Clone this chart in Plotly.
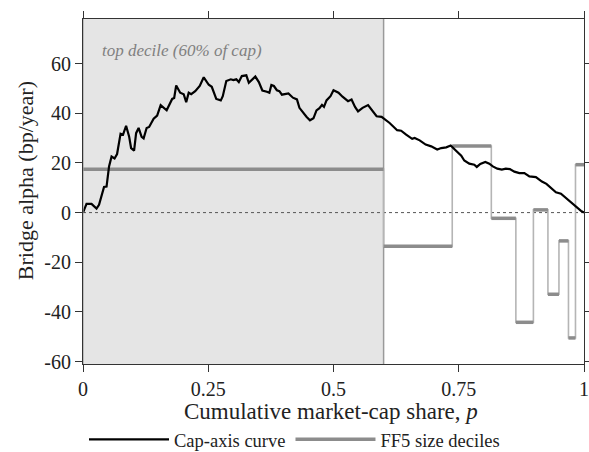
import plotly.graph_objects as go

# ---- data ----
curve_p = [0, .007, .017, .022, .027, .032, .039, .042, .047, .052, .057, .063, .068, .075, .080,
           .086, .092, .096, .102, .106, .111, .117, .121, .127, .132, .141, .148, .155, .167, .178,
           .182, .186, .194, .201, .206, .211, .216, .224, .233, .241, .251, .257, .266, .275, .279,
           .286, .295, .300, .306, .311, .317, .326, .331, .344, .351, .358, .367, .372, .376, .381,
           .387, .392, .397, .410, .419, .427, .432, .440, .446, .453, .460, .466, .472, .477, .481,
           .486, .494, .500, .510, .518, .522, .529, .536, .543, .549, .558, .569, .578, .586, .596,
           .606, .612, .627, .635, .645, .652, .657, .662, .672, .684, .695, .707, .715, .725, .734,
           .742, .755, .761, .771, .781, .786, .793, .803, .811, .818, .827, .836, .844, .852, .861,
           .871, .881, .891, .904, .916, .925, .934, .944, .954, .964, .974, .984, .994, 1.0]
curve_alpha = [0, 3.5, 3.5, 2.4, 1.6, 3.1, 7.8, 10.3, 10.5, 18.6, 22.6, 21.8, 23.6, 31.8, 31.4,
               35.0, 30.7, 26.0, 25.0, 32.0, 34.1, 30.5, 29.9, 34.1, 34.5, 37.8, 39.1, 43.3, 41.2, 45.8,
               46.2, 51.2, 48.3, 47.7, 44.5, 48.3, 47.7, 48.9, 51.0, 54.5, 51.5, 50.7, 45.8, 45.2, 46.9,
               53.0, 53.7, 53.4, 53.7, 52.6, 55.0, 55.3, 52.3, 54.8, 52.6, 49.2, 48.7, 48.3, 51.4, 51.0,
               49.3, 48.9, 47.5, 48.0, 46.3, 45.6, 42.2, 39.9, 38.6, 37.2, 38.0, 41.2, 42.1, 43.4, 42.6,
               45.2, 46.9, 49.3, 48.3, 46.7, 45.9, 44.9, 45.6, 42.6, 40.8, 42.2, 43.3, 40.8, 38.8, 38.6,
               37.2, 36.1, 33.2, 33.0, 31.4, 30.5, 29.7, 30.1, 29.1, 27.4, 26.7, 25.4, 26.0, 26.3, 27.0,
               25.4, 22.9, 21.0, 19.7, 19.3, 18.4, 19.6, 20.4, 19.7, 18.6, 17.7, 17.3, 17.7, 17.5, 16.5,
               15.9, 15.9, 14.6, 14.3, 12.5, 11.6, 9.9, 8.2, 7.6, 5.8, 4.0, 2.2, 0.7, 0]

decile_bounds = [0, 0.60, 0.737, 0.815, 0.864, 0.899, 0.928, 0.950, 0.969, 0.983, 1.0]
decile_alpha = [17.5, -13.6, 26.8, -2.3, -44.2, 1.1, -32.9, -11.4, -50.5, 19.3]

top_share = 0.60
x_ticks = [0, 0.25, 0.5, 0.75, 1]
x_ticktext = ["0", "0.25", "0.5", "0.75", "1"]
y_ticks = [-60, -40, -20, 0, 20, 40, 60]
y_ticktext = ["-60", "-40", "-20", "0", "20", "40", "60"]

FONT = "Liberation Serif"

# ---- step traces ----
step_x, step_y = [], []
for i, v in enumerate(decile_alpha):
    step_x.append(decile_bounds[i]); step_y.append(v)
step_x.append(decile_bounds[-1]); step_y.append(decile_alpha[-1])

seg_x, seg_y = [], []
for i, v in enumerate(decile_alpha):
    seg_x += [decile_bounds[i], decile_bounds[i + 1], None]
    seg_y += [v, v, None]

fig = go.Figure()
fig.add_trace(go.Scatter(x=step_x, y=step_y, mode="lines", line=dict(color="#b5b5b5", width=1.6, shape="hv"),
                         showlegend=False, hoverinfo="skip"))
fig.add_trace(go.Scatter(x=seg_x, y=seg_y, mode="lines", line=dict(color="#8c8c8c", width=3.5),
                         name="FF5 size deciles", legendrank=2))
fig.add_trace(go.Scatter(x=curve_p, y=curve_alpha, mode="lines", line=dict(color="black", width=2.2),
                         name="Cap-axis curve", legendrank=1))

fig.add_shape(type="rect", xref="x", yref="paper", x0=0, x1=top_share, y0=0, y1=1,
              fillcolor="#e5e5e5", line=dict(width=0), layer="below")
fig.add_shape(type="line", xref="x", yref="paper", x0=top_share, x1=top_share, y0=0, y1=1,
              line=dict(color="#9a9a9a", width=1.5), layer="below")
fig.add_shape(type="line", xref="paper", yref="y", x0=0, x1=1, y0=0, y1=0,
              line=dict(color="#555", width=1, dash="dot"), layer="below")
fig.add_shape(type="line", xref="x", yref="paper", x0=0, x1=0, y0=0, y1=1,
              line=dict(color="#a0a0a0", width=1.2), layer="above")

fig.add_annotation(x=0.033, y=65.5, xref="x", yref="y", text="<i>top decile (60% of cap)</i>",
                   showarrow=False, xanchor="left", yanchor="middle",
                   font=dict(family=FONT, size=17, color="#808080"))
fig.add_annotation(x=0, y=0.53, xref="paper", yref="paper", xshift=-58, text="Bridge alpha (bp/year)",
                   textangle=-90, showarrow=False, xanchor="center", yanchor="middle",
                   font=dict(family=FONT, size=22, color="#222"))
fig.add_annotation(x=0.496, y=-0.138, xref="paper", yref="paper", text="Cumulative market-cap share, <i>p</i>",
                   showarrow=False, xanchor="center", yanchor="middle",
                   font=dict(family=FONT, size=23, color="#222"))

axis_common = dict(showgrid=False, zeroline=False, showline=True, linecolor="#333", linewidth=1,
                   ticks="outside", ticklen=7, tickwidth=1, tickcolor="#333", mirror="ticks",
                   automargin=False,
                   tickfont=dict(family=FONT, size=20, color="#222"))
fig.update_xaxes(range=[0, 1], tickvals=x_ticks, ticktext=x_ticktext, **axis_common)
fig.update_yaxes(range=[-61, 78], tickvals=y_ticks, ticktext=y_ticktext, **axis_common)

fig.update_layout(
    width=589, height=452,
    margin=dict(l=83, r=5, t=19, b=88, autoexpand=False),
    plot_bgcolor="white", paper_bgcolor="white",
    font=dict(family=FONT, color="#222"),
    legend=dict(orientation="h", xref="container", yref="container", x=0.5, xanchor="center",
                y=0.027, yanchor="middle", font=dict(family=FONT, size=18.5, color="#222"),
                itemwidth=80, bgcolor="rgba(0,0,0,0)"),
)

fig.write_html("out.html")
